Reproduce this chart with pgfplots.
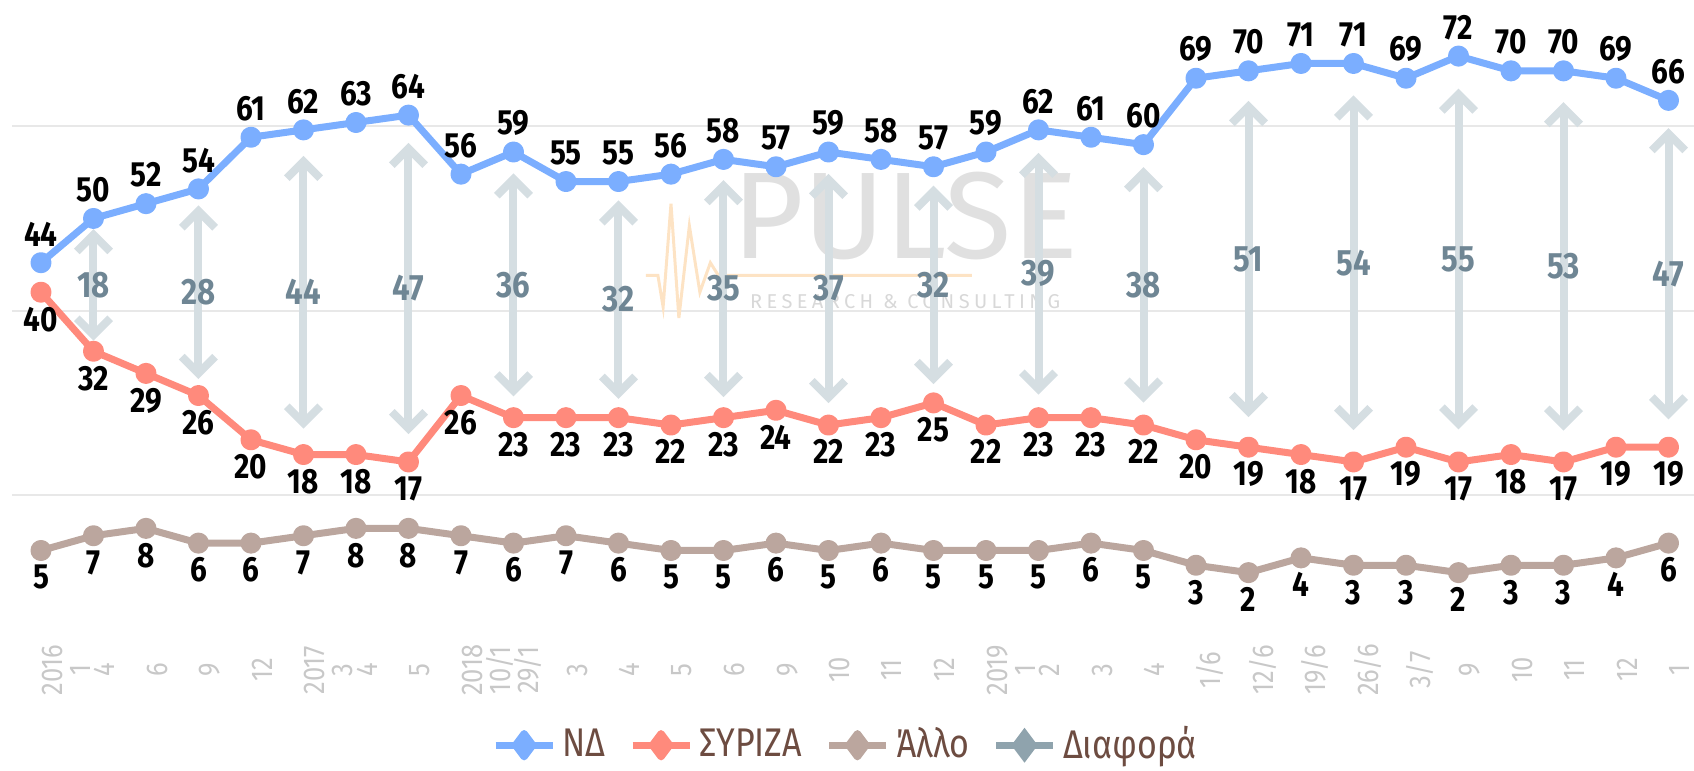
\documentclass[border=0pt]{standalone}
\usepackage{fontspec}
\setmainfont{Fira Sans}
\newfontfamily\condfont[FakeStretch=0.85]{Fira Sans}
\usepackage{pgfplots}
\pgfplotsset{compat=1.18}
\usepackage{pgfplotstable}
\usetikzlibrary{arrows.meta}

\definecolor{ndc}{HTML}{7BAEFF}
\definecolor{syc}{HTML}{FF8A7C}
\definecolor{otc}{HTML}{BBA69E}
\definecolor{dfc}{HTML}{8FA3AD}
\definecolor{dflab}{HTML}{6F8694}
\definecolor{arrc}{HTML}{D5DEE2}
\definecolor{tickc}{HTML}{C8C8C8}
\definecolor{legc}{HTML}{6D4C41}
\definecolor{wmo}{HTML}{FDE3C4}

\pgfplotstableread{
x nd sy ot
0 44 40 5
1 50 32 7
2 52 29 8
3 54 26 6
4 61 20 6
5 62 18 7
6 63 18 8
7 64 17 8
8 56 26 7
9 59 23 6
10 55 23 7
11 55 23 6
12 56 22 5
13 58 23 5
14 57 24 6
15 59 22 5
16 58 23 6
17 57 25 5
18 59 22 5
19 62 23 5
20 61 23 6
21 60 22 5
22 69 20 3
23 70 19 2
24 71 18 4
25 71 17 3
26 69 19 3
27 72 17 2
28 70 18 3
29 70 17 3
30 69 19 4
31 66 19 6
}\data

\pgfplotstableread{
x nd sy d
1 50 32 18
3 54 26 28
5 62 18 44
7 64 17 47
9 59 23 36
11 55 23 32
13 58 23 35
15 59 22 37
17 57 25 32
19 62 23 39
21 60 22 38
23 70 19 51
25 71 17 54
27 72 17 55
29 70 17 53
31 66 19 47
}\diff

\begin{document}
\begin{tikzpicture}
\path[use as bounding box] (-3.6pt,-51pt) rectangle (504.6pt,180pt);
\begin{axis}[
  at={(0,0)}, anchor=south west,
  scale only axis, width=504.6pt, height=180pt,
  xmin=-0.552, xmax=31.486, ymin=-1.71, ymax=79.6,
  axis line style={draw=none},
  major tick length=0pt,
  ytick={12.5,37.5,62.5}, yticklabels={},
  ymajorgrids, grid style={color=black!9, line width=0.6pt},
  xtick={0,...,31},
  xticklabels={{2016\\1},4,6,9,12,{2017\\3},4,5,{2018\\10/1},29/1,3,4,5,6,9,10,11,12,{2019\\1},2,3,4,1/6,12/6,19/6,26/6,3/7,9,10,11,12,1},
  xticklabel style={yshift=-21pt, xshift=-1pt, rotate=90, anchor=north, align=center, inner sep=1pt, font=\condfont\fontsize{9}{8.4}\selectfont, text=tickc},
  clip=false,
  /pgf/number format/assume math mode=true,
  legend columns=4,
  legend style={at={(axis description cs:0.497,-0.242)}, anchor=center, draw=none, fill=none,
    font=\condfont\fontsize{12}{14}\selectfont, text=legc,
    /tikz/every even column/.append style={column sep=5pt}},
  legend image post style={mark=diamond*, mark size=3.5pt},
]
% watermark
\node[text=black!22, font=\fontsize{37}{40}\selectfont, opacity=0.55] at (axis cs:16.46,50.3) {PULSE};
\node[text=black!22, font=\fontsize{6}{7}\selectfont\addfontfeature{LetterSpace=22}, opacity=0.7] at (axis cs:16.46,38.7) {RESEARCH \& CONSULTING};
\draw[wmo, line width=0.9pt] (axis cs:11.52,42.3) -- (axis cs:11.75,42.3) -- (axis cs:11.85,38) -- (axis cs:12.0,52) -- (axis cs:12.15,36.5) -- (axis cs:12.35,49) -- (axis cs:12.55,40) -- (axis cs:12.75,44) -- (axis cs:12.9,42.3) -- (axis cs:17.73,42.3);

% difference arrows
\addplot[forget plot, draw=arrc, line width=2.4pt,
  quiver={u=0, v={0.42*\thisrow{d}}, every arrow/.append style={-{Straight Barb[length=5pt,width=10pt]}}}]
  table[x=x, y expr=(\thisrow{nd}+\thisrow{sy})/2] {\diff};
\addplot[forget plot, draw=arrc, line width=2.4pt,
  quiver={u=0, v={-0.42*\thisrow{d}}, every arrow/.append style={-{Straight Barb[length=5pt,width=10pt]}}}]
  table[x=x, y expr=(\thisrow{nd}+\thisrow{sy})/2] {\diff};
\addplot[forget plot, draw=none, mark=none, nodes near coords, point meta=explicit,
  every node near coord/.style={anchor=center, font=\condfont\bfseries\fontsize{11}{12}\selectfont, text=dflab}]
  table[x=x, y expr=(\thisrow{nd}+\thisrow{sy})/2, meta=d] {\diff};

% lines
\addplot[ndc, line width=2.1pt, line join=round, mark=*, mark size=2.1pt,
  nodes near coords,
  every node near coord/.style={anchor=south, yshift=0.5pt, font=\condfont\bfseries\fontsize{10.5}{12}\selectfont, text=black}]
  table[x=x, y=nd] {\data};
\addplot[syc, line width=2.1pt, line join=round, mark=*, mark size=2.1pt,
  nodes near coords,
  every node near coord/.style={anchor=north, yshift=0pt, font=\condfont\bfseries\fontsize{10.5}{12}\selectfont, text=black}]
  table[x=x, y=sy] {\data};
\addplot[otc, line width=2.1pt, line join=round, mark=*, mark size=2.1pt,
  nodes near coords,
  every node near coord/.style={anchor=north, yshift=0pt, font=\condfont\bfseries\fontsize{10.5}{12}\selectfont, text=black}]
  table[x=x, y=ot] {\data};
\addlegendimage{dfc, line width=2.1pt}
\legend{ΝΔ, ΣΥΡΙΖΑ, Άλλο, Διαφορά}
\end{axis}
\end{tikzpicture}
\end{document}
